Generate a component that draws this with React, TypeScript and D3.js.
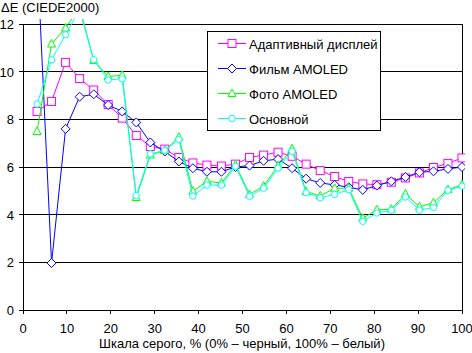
import React from 'react';
import * as d3 from 'd3';

// grey level, %
const grey = [3.2, 6.5, 9.7, 12.9, 16.1, 19.4, 22.6, 25.8, 29.0, 32.3, 35.5, 38.7, 41.9, 45.2, 48.4, 51.6,
  54.8, 58.1, 61.3, 64.5, 67.7, 71.0, 74.2, 77.4, 80.6, 83.9, 87.1, 90.3, 93.5, 96.8, 100];

const adaptive = [8.33, 8.75, 10.39, 9.71, 9.23, 8.62, 8.05, 7.32, 6.86, 6.75, 6.4, 6.17, 6.08, 6.04, 6.12, 6.4,
  6.5, 6.62, 6.45, 6.12, 5.85, 5.6, 5.39, 5.29, 5.26, 5.36, 5.54, 5.75, 5.98, 6.15, 6.38];
const film = [15.0, 1.97, 7.6, 8.95, 9.05, 8.6, 8.33, 7.87, 7.03, 6.65, 6.23, 5.95, 5.8, 5.8, 6.0, 6.06,
  6.26, 6.33, 5.95, 5.51, 5.33, 5.25, 5.15, 5.04, 5.22, 5.4, 5.58, 5.78, 5.82, 5.92, 6.0];
const photo = [7.49, 11.16, 11.83, 12.7, 10.47, 9.8, 9.85, 4.72, 6.5, 6.7, 7.25, 4.98, 5.4, 5.33, 6.1, 4.85,
  5.2, 6.05, 6.76, 4.97, 4.79, 5.11, 5.11, 3.85, 4.2, 4.23, 4.87, 4.33, 4.5, 5.05, 5.26];
const basic = [8.64, 10.5, 11.55, 12.6, 10.5, 9.65, 9.7, 4.8, 6.55, 6.7, 7.15, 4.78, 5.24, 5.24, 6.03, 4.77,
  5.11, 5.95, 6.66, 4.92, 4.71, 4.85, 5.05, 3.72, 4.07, 4.18, 4.74, 4.19, 4.3, 5.02, 5.2];

const seriesNames = ['Адаптивный дисплей', 'Фильм AMOLED', 'Фото AMOLED', 'Основной'];
const xTicks = [0, 10, 20, 30, 40, 50, 60, 70, 80, 90, 100];
const yTicks = [0, 2, 4, 6, 8, 10, 12];

const W = 472, H = 353;
const font = 'Liberation Sans, Arial, sans-serif';

const x = d3.scaleLinear().domain([0, 100]).range([23, 462]);
const y = d3.scaleLinear().domain([0, 12]).range([310, 24]);

function Marker({ kind, cx, cy, color }: { kind: string; cx: number; cy: number; color: string }) {
  if (kind == 'square')
    return <rect x={cx - 4} y={cy - 4} width={8} height={8} fill="#fff" stroke={color} strokeWidth={1} />;
  if (kind == 'diamond')
    return <path d={`M${cx},${cy - 4.5}L${cx + 4.5},${cy}L${cx},${cy + 4.5}L${cx - 4.5},${cy}Z`} fill="#fff" stroke={color} />;
  if (kind == 'triangle')
    return <path d={`M${cx},${cy - 4.5}L${cx + 4},${cy + 3}L${cx - 4},${cy + 3}Z`} fill="#fff" stroke={color} />;
  return <circle cx={cx} cy={cy} r={3.2} fill="#fff" stroke={color} />;
}

export default function App() {
  const series = [
    { name: seriesNames[0], values: adaptive, color: '#ff00ff', kind: 'square' },
    { name: seriesNames[1], values: film, color: '#0000ff', kind: 'diamond' },
    { name: seriesNames[2], values: photo, color: '#00ff00', kind: 'triangle' },
    { name: seriesNames[3], values: basic, color: '#00ffff', kind: 'circle' },
  ];
  const line = d3.line<number>().x((d, i) => x(grey[i])).y(d => y(d));

  return (
    <svg width={W} height={H} style={{ position: 'absolute', left: 0, top: 0, background: '#fff' }}
      fontFamily={font} fontSize={13}>
      <defs>
        <clipPath id="plot">
          <rect x={20} y={19} width={445} height={294} />
        </clipPath>
      </defs>

      {/* gridlines */}
      {yTicks.map(t => (
        <line key={t} x1={x(0)} x2={x(100)} y1={y(t)} y2={y(t)} stroke="#000" shapeRendering="crispEdges" />
      ))}
      <line x1={x(0)} x2={x(0)} y1={y(12)} y2={y(0) + 4} stroke="#000" shapeRendering="crispEdges" />
      <line x1={x(100)} x2={x(100)} y1={y(12)} y2={y(0)} stroke="#000" shapeRendering="crispEdges" />

      {/* y axis */}
      {yTicks.map(t => (
        <g key={t}>
          <line x1={x(0) - 4} x2={x(0)} y1={y(t)} y2={y(t)} stroke="#000" shapeRendering="crispEdges" />
          <text x={14} y={y(t) + 5} textAnchor="end">{t}</text>
        </g>
      ))}
      {/* x axis */}
      {xTicks.map(t => (
        <g key={t}>
          <line x1={x(t)} x2={x(t)} y1={y(0)} y2={y(0) + 4} stroke="#000" shapeRendering="crispEdges" />
          <text x={x(t)} y={333} textAnchor="middle">{t}</text>
        </g>
      ))}

      <text x={1} y={12}>ΔE (CIEDE2000)</text>
      <text x={242} y={348} textAnchor="middle">Шкала серого, % (0% – черный, 100% – белый)</text>

      <g clipPath="url(#plot)">
        {series.map(s => (
          <g key={s.name}>
            <path d={line(s.values) || ''} fill="none" stroke={s.color} strokeWidth={1} />
            {s.values.map((v, i) => (
              <Marker key={i} kind={s.kind} cx={x(grey[i])} cy={y(v)} color={s.color} />
            ))}
          </g>
        ))}
      </g>

      {/* legend */}
      <rect x={207.5} y={31.5} width={173} height={99} fill="#fff" stroke="#000" />
      {series.map((s, i) => {
        const ly = 43.5 + i * 25;
        return (
          <g key={s.name}>
            <line x1={218} x2={246} y1={ly} y2={ly} stroke={s.color} />
            <Marker kind={s.kind} cx={232} cy={ly} color={s.color} />
            <text x={249} y={ly + 5}>{s.name}</text>
          </g>
        );
      })}
    </svg>
  );
}
